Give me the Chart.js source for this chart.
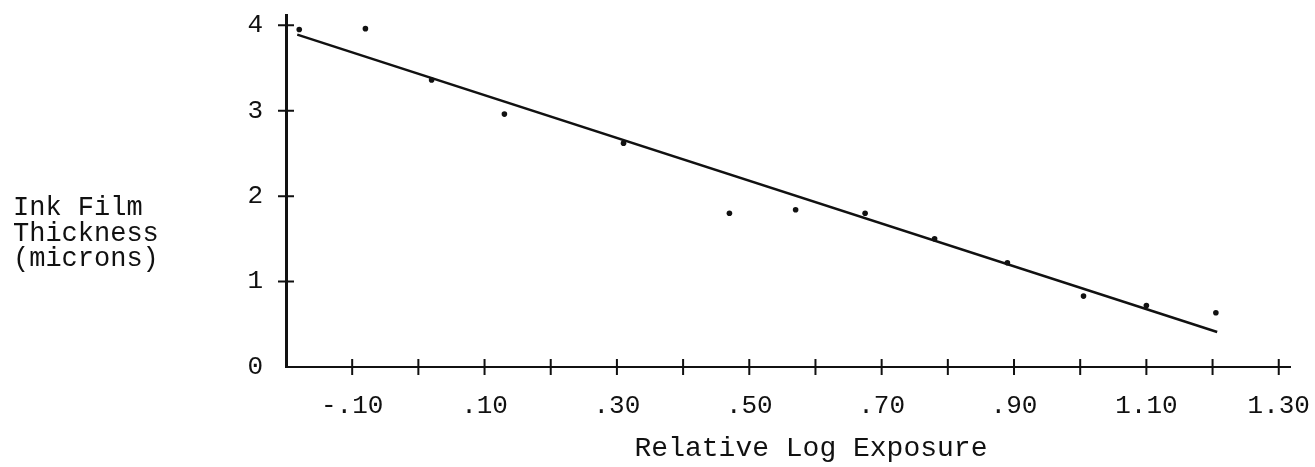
<!DOCTYPE html>
<html>
<head>
<meta charset="utf-8">
<title>Ink Film Thickness vs Relative Log Exposure</title>
<script src="https://cdn.jsdelivr.net/npm/chart.js@4"></script>
<style>
    html, body { margin: 0; padding: 0; background: #fff; }
    #wrap { width: 1315px; height: 467px; position: relative; }
</style>
</head>
<body>
<div id="wrap"><canvas id="chartInk"></canvas></div>
<script>
// measured points
const exposure = [-0.18, -0.08, 0.02, 0.13, 0.31, 0.47, 0.57, 0.675, 0.78, 0.89, 1.005, 1.10, 1.205];
const thickness = [3.95, 3.96, 3.36, 2.96, 2.62, 1.80, 1.84, 1.80, 1.50, 1.22, 0.83, 0.72, 0.635];

// fitted straight line (end points)
const fitX = [-0.183, 1.207];
const fitY = [3.89, 0.41];

// axis ticks
const xTickValues = [-0.1, 0, 0.1, 0.2, 0.3, 0.4, 0.5, 0.6, 0.7, 0.8, 0.9, 1.0, 1.1, 1.2, 1.3];
const xLabelValues = [-0.1, 0.1, 0.3, 0.5, 0.7, 0.9, 1.1, 1.3];
const xLabelText = ['-.10', '.10', '.30', '.50', '.70', '.90', '1.10', '1.30'];
const yTickValues = [0, 1, 2, 3, 4];
const yLabelText = ['0', '1', '2', '3', '4'];

const ink = '#111';
const mono = '"Liberation Mono", "DejaVu Sans Mono", monospace';

function labelFor(values, texts, v) {
    const i = values.findIndex(t => Math.abs(t - v) < 1e-6);
    return i < 0 ? '' : texts[i];
}

// cross-shaped tick marks and the horizontal axis texts
const axisMarks = {
    id: 'axisMarks',
    afterDraw(chart) {
        const { ctx, scales: { x, y } } = chart;
        ctx.save();
        ctx.strokeStyle = ink;
        ctx.lineWidth = 2;
        ctx.beginPath();
        xTickValues.forEach(v => {
            const px = x.getPixelForValue(v);
            ctx.moveTo(px, y.bottom - 8);
            ctx.lineTo(px, y.bottom + 8);
        });
        yTickValues.filter(v => v > 0).forEach(v => {
            const py = y.getPixelForValue(v);
            ctx.moveTo(x.left - 8, py);
            ctx.lineTo(x.left + 8, py);
        });
        ctx.stroke();

        ctx.fillStyle = ink;
        ctx.textBaseline = 'alphabetic';
        ctx.font = '28px ' + mono;
        ctx.textAlign = 'center';
        ctx.fillText('Relative Log Exposure', (x.left + x.right) / 2 + 23, 456);

        ctx.font = '27px ' + mono;
        ctx.textAlign = 'left';
        ['Ink Film', 'Thickness', '(microns)'].forEach((line, i) => {
            ctx.fillText(line, 13, 215 + i * 25.5);
        });
        ctx.restore();
    }
};

document.addEventListener('DOMContentLoaded', function() {
    const ctx = document.getElementById('chartInk').getContext('2d');
    new Chart(ctx, {
        type: 'scatter',
        data: {
            datasets: [
                {
                    label: 'Measured',
                    data: exposure.map((x, i) => ({ x: x, y: thickness[i] })),
                    pointRadius: 2.8,
                    pointBackgroundColor: ink,
                    pointBorderWidth: 0
                },
                {
                    label: 'Fit',
                    data: fitX.map((x, i) => ({ x: x, y: fitY[i] })),
                    showLine: true,
                    pointRadius: 0,
                    borderColor: ink,
                    borderWidth: 2.5
                }
            ]
        },
        options: {
            responsive: true,
            maintainAspectRatio: false,
            animation: false,
            layout: { autoPadding: false, padding: { left: 0, right: 25, top: 15, bottom: 0 } },
            plugins: { legend: { display: false }, tooltip: { enabled: false } },
            scales: {
                x: {
                    type: 'linear',
                    min: -0.2,
                    max: 1.317,
                    grid: { display: false },
                    border: { display: true, color: ink, width: 2 },
                    afterBuildTicks: scale => { scale.ticks = xTickValues.map(v => ({ value: v })); },
                    afterFit: scale => {
                        scale.height = 100;
                        scale.paddingLeft = 0;
                        scale.paddingRight = 0;
                    },
                    ticks: {
                        autoSkip: false,
                        maxRotation: 0,
                        padding: 16,
                        color: ink,
                        font: { family: mono, size: 26 },
                        callback: v => labelFor(xLabelValues, xLabelText, v)
                    }
                },
                y: {
                    min: 0,
                    max: 4.12,
                    grid: { display: false },
                    border: { display: true, color: ink, width: 3 },
                    afterBuildTicks: scale => { scale.ticks = yTickValues.map(v => ({ value: v })); },
                    afterFit: scale => {
                        scale.width = 286;
                        scale.paddingTop = 0;
                        scale.paddingBottom = 0;
                    },
                    ticks: {
                        padding: 15,
                        color: ink,
                        font: { family: mono, size: 26 },
                        callback: v => labelFor(yTickValues, yLabelText, v)
                    }
                }
            }
        },
        plugins: [axisMarks]
    });
});
</script>
</body>
</html>
